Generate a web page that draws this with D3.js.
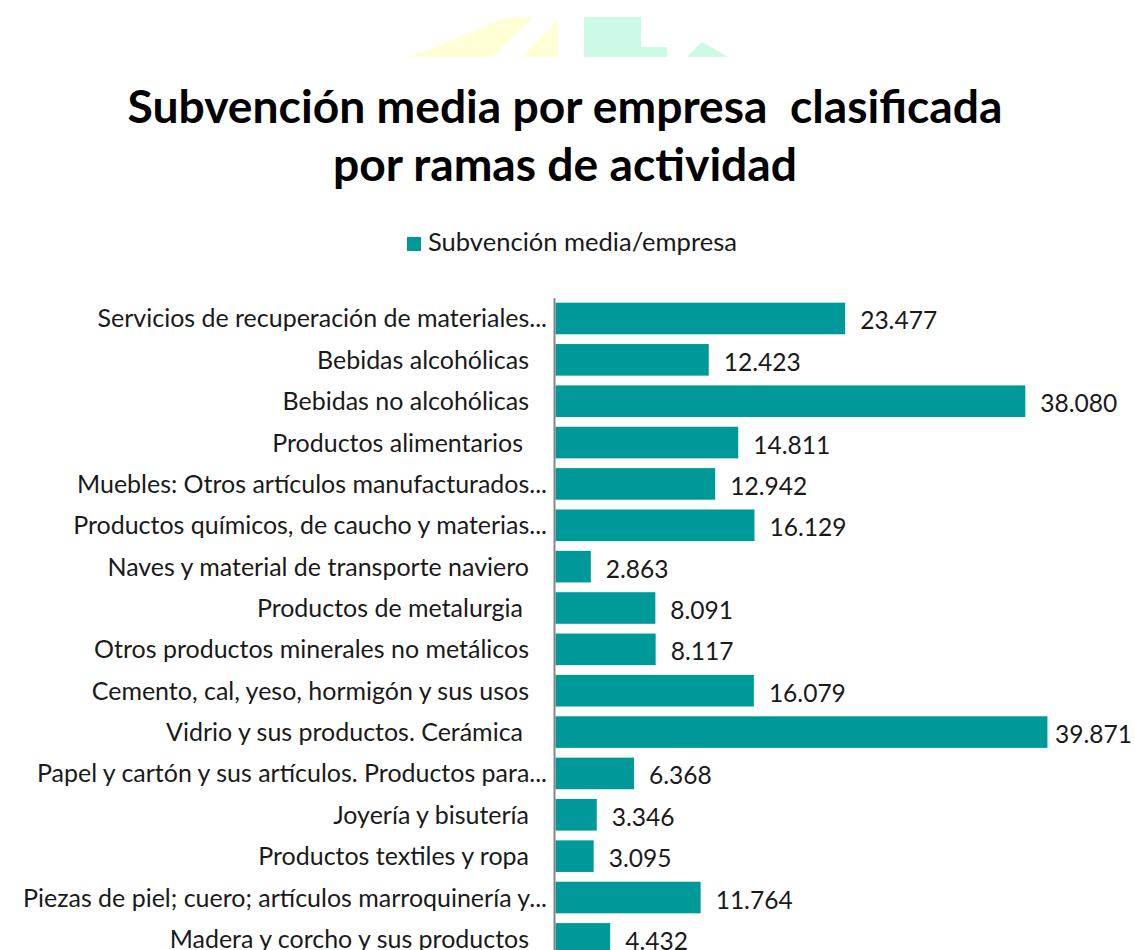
<!DOCTYPE html>
<html>
<head>
<meta charset="utf-8">
<script src="https://cdn.jsdelivr.net/npm/d3@7"></script>
<style>
  body { margin: 0; background: #fff; }
  text { font-family: Lato, "Open Sans", sans-serif; white-space: pre; fill: #1a1a1a; }
</style>
</head>
<body>
<svg width="1135" height="950"></svg>
<script>
// ---- data (top to bottom, as in the chart) ----
const categories = [
  'Servicios de recuperación de materiales...',
  'Bebidas alcohólicas',
  'Bebidas no alcohólicas',
  'Productos alimentarios ',
  'Muebles: Otros artículos manufacturados...',
  'Productos químicos, de caucho y materias...',
  'Naves y material de transporte naviero',
  'Productos de metalurgia ',
  'Otros productos minerales no metálicos',
  'Cemento, cal, yeso, hormigón y sus usos',
  'Vidrio y sus productos. Cerámica ',
  'Papel y cartón y sus artículos. Productos para...',
  'Joyería y bisutería',
  'Productos textiles y ropa',
  'Piezas de piel; cuero; artículos marroquinería y...',
  'Madera y corcho y sus productos'
]
const values = [23477, 12423, 38080, 14811, 12942, 16129, 2863, 8091, 8117, 16079, 39871, 6368, 3346, 3095, 11764, 4432]
const seriesName = 'Subvención media/empresa'
const titleLines = ['Subvención media por empresa  clasificada', 'por ramas de actividad']
const xDomain = [0, 45000]

const svg = d3.select('svg')
const width = +svg.attr('width')
const barColor = '#009999'

const es = d3.formatLocale({decimal: ',', thousands: '.', grouping: [3], currency: ['', '€']})
const fmt = es.format(',')

// pick a font size so a string spans a given width
const fitSize = (str, target, weight) => {
  const t = svg.append('text').style('font-size', '100px').style('font-weight', weight).text(str)
  const w = t.node().getComputedTextLength()
  t.remove()
  return 100 * target / w
}

// faint logo at top
const logo = svg.append('g')
logo.append('polygon').attr('points', '410,57 492,57 533,17 508,17').attr('fill', '#ffffd6')
logo.append('polygon').attr('points', '522,57 558,57 558,20').attr('fill', '#ffffd6')
logo.append('polygon').attr('points', '584,17 641,17 641,47 667,47 667,57 584,57').attr('fill', '#ccfae6')
logo.append('polygon').attr('points', '687,57 728,57 702,42').attr('fill', '#ccfae6')

// title
const titleSize = fitSize(titleLines[0], 875, 'bold')
svg.selectAll('.title').data(titleLines)
  .enter().append('text')
  .attr('class', 'title')
  .attr('x', 565)
  .attr('y', (d, i) => 123 + i * 58)
  .attr('text-anchor', 'middle')
  .style('font-weight', 'bold')
  .style('font-size', titleSize + 'px')
  .style('fill', '#000')
  .text(d => d)

// legend
const legendSize = fitSize(seriesName, 309, 'normal')
svg.append('rect').attr('x', 407).attr('y', 237).attr('width', 14).attr('height', 14).attr('fill', barColor)
svg.append('text').attr('x', 428).attr('y', 251)
  .style('font-size', legendSize + 'px')
  .text(seriesName)

// scales
const margin = {left: 555.5, top: 297.8}
const xScale = d3.scaleLinear()
  .domain(xDomain)
  .range([margin.left, margin.left + 555.2])

const step = 41.36
const yScale = d3.scaleBand()
  .domain(categories)
  .range([margin.top, margin.top + step * categories.length])
  .paddingInner(0.236)
  .paddingOuter(0.118)

const data = categories.map((c, i) => ({name: c, value: values[i]}))

// bars
svg.selectAll('rect.bar').data(data)
  .enter().append('rect')
  .attr('class', 'bar')
  .attr('x', xScale(0))
  .attr('y', d => yScale(d.name))
  .attr('width', d => xScale(d.value) - xScale(0))
  .attr('height', yScale.bandwidth())
  .attr('fill', barColor)

// axis line on the left
const yAxis = d3.axisLeft(yScale).tickSize(0).tickFormat('')
const axisG = svg.append('g').attr('transform', `translate(${xScale(0) - 1.5},0)`).call(yAxis)
axisG.select('.domain').attr('stroke', '#868686').attr('stroke-width', 2)

// category labels
const catSize = fitSize('Bebidas alcohólicas', 212, 'normal')
svg.selectAll('text.cat').data(data)
  .enter().append('text')
  .attr('class', 'cat')
  .attr('x', d => d.name.endsWith('...') ? 547 : 529)
  .attr('y', d => yScale(d.name) + yScale.bandwidth() / 2 + 9)
  .attr('dx', d => d.name.endsWith(' ') ? -6 : 0)
  .attr('text-anchor', 'end')
  .style('font-size', catSize + 'px')
  .text(d => d.name.trimEnd())

// value labels (kept inside the chart's right edge)
const valSize = fitSize('23.477', 77, 'normal')
svg.selectAll('text.val').data(data)
  .enter().append('text')
  .attr('class', 'val')
  .attr('y', d => yScale(d.name) + yScale.bandwidth() / 2 + 11)
  .style('font-size', valSize + 'px')
  .text(d => fmt(d.value))
  .attr('x', function(d) {
    const w = this.getComputedTextLength()
    return Math.min(xScale(d.value) + 15, width - 3 - w)
  })
</script>
</body>
</html>
